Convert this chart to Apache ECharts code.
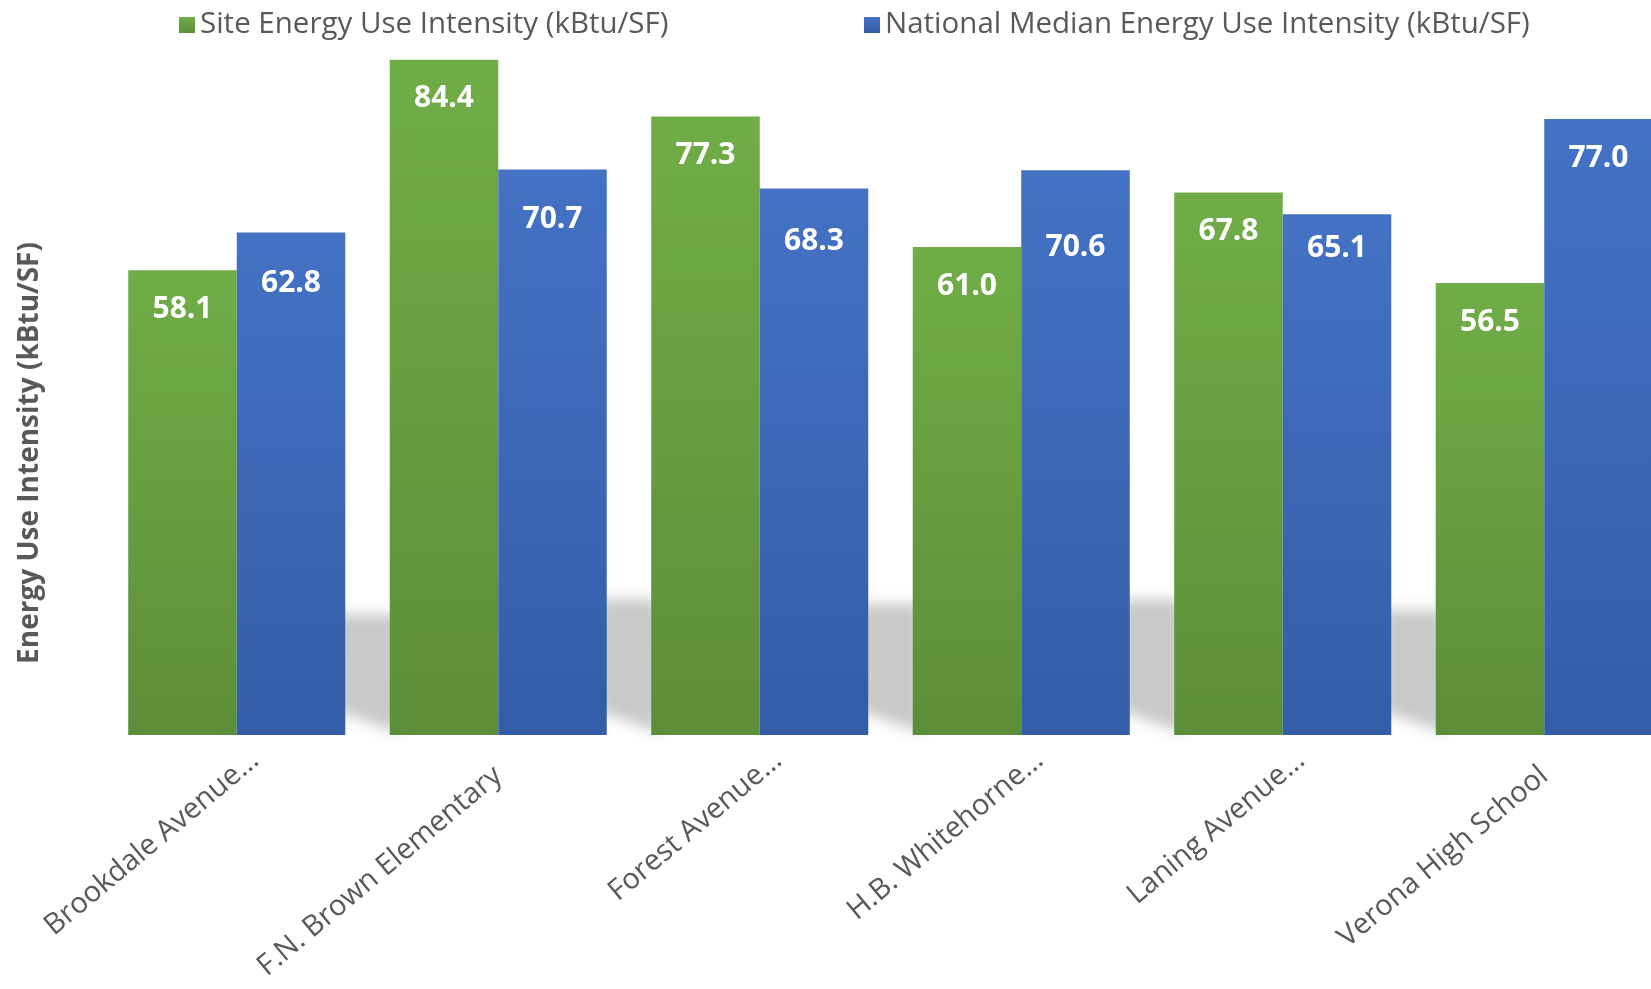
<!DOCTYPE html>
<html>
<head>
<meta charset="utf-8">
<script src="https://cdn.jsdelivr.net/npm/echarts@6/dist/echarts.min.js"></script>
<style>
  html, body { margin: 0; padding: 0; background: #fff; }
  #chart { width: 1651px; height: 989px; }
</style>
</head>
<body>
<div id="chart"></div>
<script>
// schools and values
var categories = ['Brookdale Avenue...', 'F.N. Brown Elementary', 'Forest Avenue...', 'H.B. Whitehorne...', 'Laning Avenue...', 'Verona High School']
var siteEui = [58.1, 84.4, 77.3, 61.0, 67.8, 56.5]
var nationalEui = [62.8, 70.7, 68.3, 70.6, 65.1, 77.0]
var siteName = 'Site Energy Use Intensity (kBtu/SF)'
var nationalName = 'National Median Energy Use Intensity (kBtu/SF)'
// some blue labels sit lower in the original, px
var nationalLabelNudge = [12, 11, 14, 38, -5, 0]

var font = '"Open Sans", Lato, sans-serif'
var grey = '#595959'

var myChart = echarts.init(document.getElementById('chart'))

function grad(top, bottom) {
    return new echarts.graphic.LinearGradient(0, 0, 0, 1, [
        { offset: 0, color: top },
        { offset: 1, color: bottom }
    ])
}

var labelOpt = {
    show: true,
    position: 'insideTop',
    distance: 24,
    color: '#fff',
    fontFamily: font,
    fontWeight: 'bold',
    fontSize: 30,
    formatter: function (p) { return p.value.toFixed(1) }
}

// soft shadow in the gap right of each group
// the shape is drawn off screen, only its blurred shadow lands in place
var OFF = 3000
function renderShadow(params, api) {
    var i = api.value(0)
    var v = api.value(1)
    var base = api.coord([i, 0])
    var top = api.coord([i, v])
    var catW = api.size([1, 0])[0]
    var h = (base[1] - top[1]) * 0.24
    var x0 = base[0] + catW * 0.38 - OFF
    var x1 = base[0] + catW * 0.62 - OFF
    var yb = base[1]
    return {
        type: 'polygon',
        shape: {
            points: [[x0, yb - h], [x1, yb - h], [x1, yb - 2], [x0, yb - 24]]
        },
        style: {
            fill: '#000',
            shadowBlur: 14,
            shadowOffsetX: OFF,
            shadowColor: '#c9c9c9'
        }
    }
}

// truncated names (ending in ...) run a bit past the tick in the original
var xData = categories.map(function (c) {
    if (c.slice(-3) === '...') {
        return { value: c, textStyle: { padding: [0, -24, 0, 0] } }
    }
    return c
})

myChart.setOption({
    backgroundColor: '#fff',
    animation: false,
    legend: [{
        left: 174,
        top: 5,
        itemWidth: 16,
        itemHeight: 16,
        icon: 'rect',
        textStyle: { color: grey, fontFamily: font, fontSize: 29.5 },
        data: [siteName]
    }, {
        left: 859,
        top: 5,
        itemWidth: 16,
        itemHeight: 16,
        icon: 'rect',
        textStyle: { color: grey, fontFamily: font, fontSize: 29.5 },
        data: [nationalName]
    }],
    grid: { left: 106, right: -24, top: 15, bottom: 254, outerBoundsMode: 'none', containLabel: false },
    xAxis: {
        type: 'category',
        data: xData,
        axisLine: { show: false },
        axisTick: { show: false },
        axisLabel: {
            rotate: 40,
            margin: 37,
            interval: 0,
            color: grey,
            fontFamily: font,
            fontSize: 29
        }
    },
    yAxis: {
        type: 'value',
        min: 0,
        max: 90,
        axisLine: { show: false },
        axisTick: { show: false },
        axisLabel: { show: false },
        splitLine: { show: false },
        name: 'Energy Use Intensity (kBtu/SF)',
        nameLocation: 'middle',
        nameGap: 62,
        nameTextStyle: {
            color: grey,
            fontFamily: font,
            fontWeight: 'bold',
            fontSize: 28,
            padding: [0, 156, 0, 0]
        }
    },
    series: [{
        type: 'custom',
        silent: true,
        z: 1,
        renderItem: renderShadow,
        data: nationalEui.map(function (v, i) { return [i, v] })
    }, {
        name: siteName,
        type: 'bar',
        z: 2,
        barGap: '0%',
        barCategoryGap: '17%',
        itemStyle: { color: grad('#70AD47', '#5C8E39') },
        label: labelOpt,
        data: siteEui
    }, {
        name: nationalName,
        type: 'bar',
        z: 2,
        barGap: '0%',
        barCategoryGap: '17%',
        itemStyle: { color: grad('#4472C4', '#335DA6') },
        label: labelOpt,
        data: nationalEui.map(function (v, i) {
            return { value: v, label: { offset: [0, nationalLabelNudge[i]] } }
        })
    }]
})
</script>
</body>
</html>
